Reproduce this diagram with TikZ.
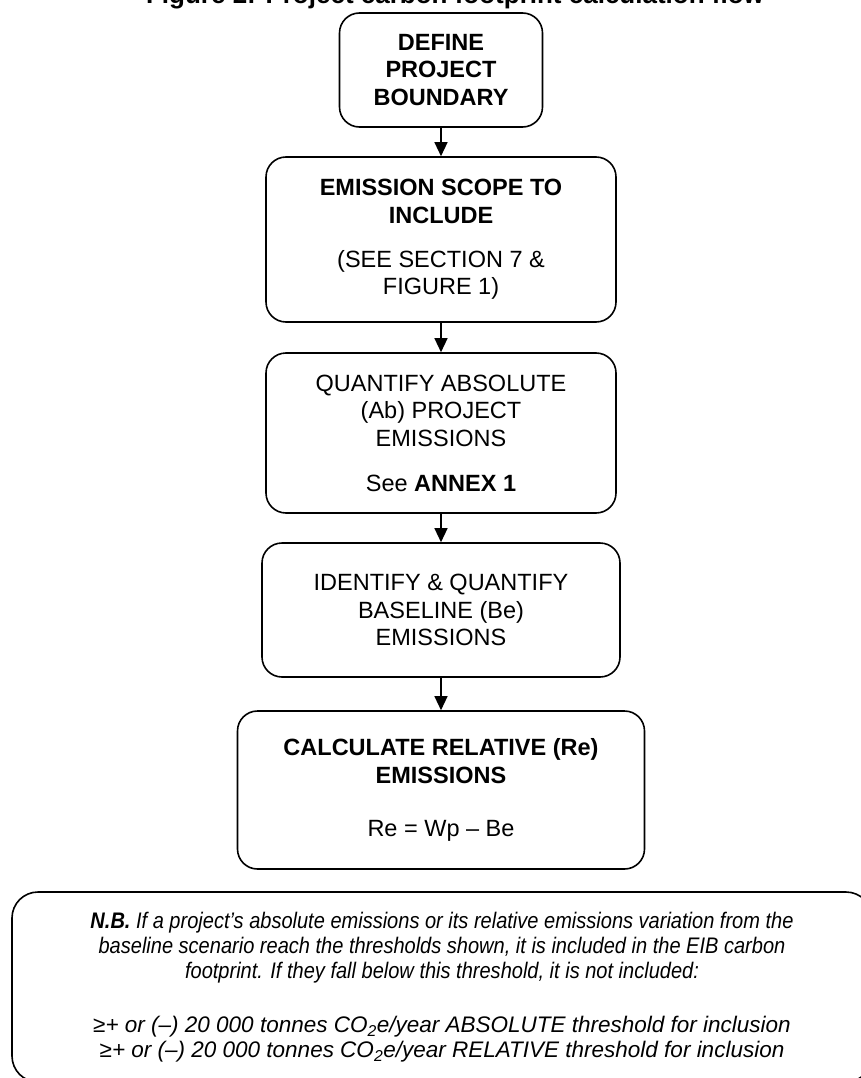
\documentclass[tikz,border=0pt]{standalone}
\usepackage{fontspec}
\setmainfont{Liberation Sans}
\newfontfamily\narrowfont[FakeStretch=0.89]{Liberation Sans}
\usetikzlibrary{arrows.meta}

\begin{document}
\begin{tikzpicture}[x=1pt,y=-1pt,
        flowbox/.style={draw,line width=1.6pt,rounded corners=20pt,align=center,inner sep=0pt,
            font=\fontsize{23.5}{27.5}\selectfont},
        notebox/.style={draw,line width=1.6pt,rounded corners=26pt,align=center,inner sep=0pt,
            font=\itshape\fontsize{22.5}{25}\selectfont},
        flowarrow/.style={-{Triangle[length=14pt,width=13pt]},line width=1.3pt}]
        \useasboundingbox (0,0) rectangle (861,1078);
        %表題
        \node[anchor=base,font=\bfseries\fontsize{26}{30}\selectfont] (title) at (455,4) {Figure 2: Project carbon footprint calculation flow};
        %各段階の枠
        \node[flowbox,minimum width=203pt,minimum height=114pt] (define) at (441,70)
            {\textbf{DEFINE}\\\textbf{PROJECT}\\\textbf{BOUNDARY}};
        \node[flowbox,minimum width=350pt,minimum height=165pt] (scope) at (441,239.5)
            {\textbf{EMISSION SCOPE TO}\\\textbf{INCLUDE}\\[16.5pt](SEE SECTION 7 \&\\FIGURE 1)};
        \node[flowbox,minimum width=350pt,minimum height=160pt] (absolute) at (441,433)
            {QUANTIFY ABSOLUTE\\(Ab) PROJECT\\EMISSIONS\\[17.5pt]See \textbf{ANNEX 1}};
        \node[flowbox,minimum width=358pt,minimum height=134pt] (baseline) at (441,610)
            {IDENTIFY \& QUANTIFY\\BASELINE (Be)\\EMISSIONS};
        \node[flowbox,minimum width=407pt,minimum height=158pt] (relative) at (441,790)
            {\textbf{CALCULATE RELATIVE (Re)}\\\textbf{EMISSIONS}\\[25.5pt]Re = Wp – Be};
        %矢印
        \draw[flowarrow] (define) -- (scope);
        \draw[flowarrow] (scope) -- (absolute);
        \draw[flowarrow] (absolute) -- (baseline);
        \draw[flowarrow] (baseline) -- (relative);
        %注記
        \node[notebox,minimum width=860pt,minimum height=190pt] (note) at (442,987)
            {\narrowfont\itshape\textbf{N.B.} If a project’s absolute emissions or its relative emissions variation from the\\
            \narrowfont\itshape baseline scenario reach the thresholds shown, it is included in the EIB carbon\\
            \narrowfont\itshape footprint. If they fall below this threshold, it is not included:\\[29pt]
            ≥+ or (–) 20 000 tonnes CO\textsubscript{2}e/year ABSOLUTE threshold for inclusion\\
            ≥+ or (–) 20 000 tonnes CO\textsubscript{2}e/year RELATIVE threshold for inclusion};
    \end{tikzpicture}
\end{document}
